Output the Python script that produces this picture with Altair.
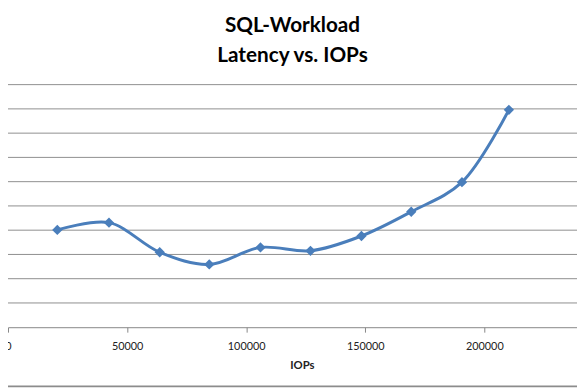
import altair as alt
import pandas as pd

# Data
iops = [20700, 42400, 63700, 84500, 106000, 127000, 148400, 169300, 190600, 210300]
latency = [4.01, 4.31, 3.09, 2.59, 3.29, 3.15, 3.76, 4.76, 5.98, 8.96]
x_ticks = [0, 50000, 100000, 150000, 200000]
y_ticks = [1, 2, 3, 4, 5, 6, 7, 8, 9, 10]

df = pd.DataFrame({"IOPs": iops, "Latency": latency})
grid_df = pd.DataFrame({"g": y_ticks})

W, H = 577, 246
FONT = "Lato"
BLUE = "#4a7ebb"
YSCALE = alt.Scale(domain=[0, 10], nice=False)

xenc = alt.X(
    "IOPs:Q",
    scale=alt.Scale(domain=[0, 238900], nice=False, zero=True),
    axis=alt.Axis(
        values=x_ticks, title="IOPs", grid=False, format="d",
        domainColor="#868686", tickColor="#868686", tickSize=5,
        labelFont=FONT, labelFontSize=11, labelColor="#222222", labelPadding=9,
        titleFont=FONT, titleFontSize=11.5, titleFontWeight="bold", titleColor="#222222",
        titlePadding=8, titleX=298, labelFlush=False,
    ),
)
yenc = alt.Y(
    "Latency:Q",
    scale=YSCALE,
    axis=alt.Axis(labels=False, ticks=False, title=None, grid=False, domainColor="#868686"),
)

grid = alt.Chart(grid_df).mark_rule(color="#8e8e8e", strokeWidth=1).encode(
    y=alt.Y("g:Q", scale=YSCALE, axis=None)
)
base = alt.Chart(df)
line = base.mark_line(interpolate="catmull-rom", color=BLUE, strokeWidth=3).encode(x=xenc, y=yenc)
pts = base.mark_point(shape="diamond", filled=True, size=110, color=BLUE, opacity=1).encode(
    x="IOPs:Q", y="Latency:Q"
)
border = alt.Chart(pd.DataFrame({"a": [0]})).mark_rule(color="#8c8c8c", strokeWidth=2).encode(
    x=alt.value(-10), x2=alt.value(W + 10), y=alt.value(306)
)

chart = (
    alt.layer(grid, line, pts, border)
    .properties(
        width=W,
        height=H,
        autosize=alt.AutoSizeParams(type="none"),
        padding={"left": 0, "top": 75, "right": 0, "bottom": 64},
        title=alt.TitleParams(
            text=["SQL-Workload", "Latency vs. IOPs"],
            font=FONT, fontSize=21, fontWeight="bold", color="#000000",
            lineHeight=31, offset=18, anchor="middle",
        ),
    )
    .configure_view(stroke=None)
)

chart.save("out.html", embed_options={"renderer": "svg", "actions": False})
